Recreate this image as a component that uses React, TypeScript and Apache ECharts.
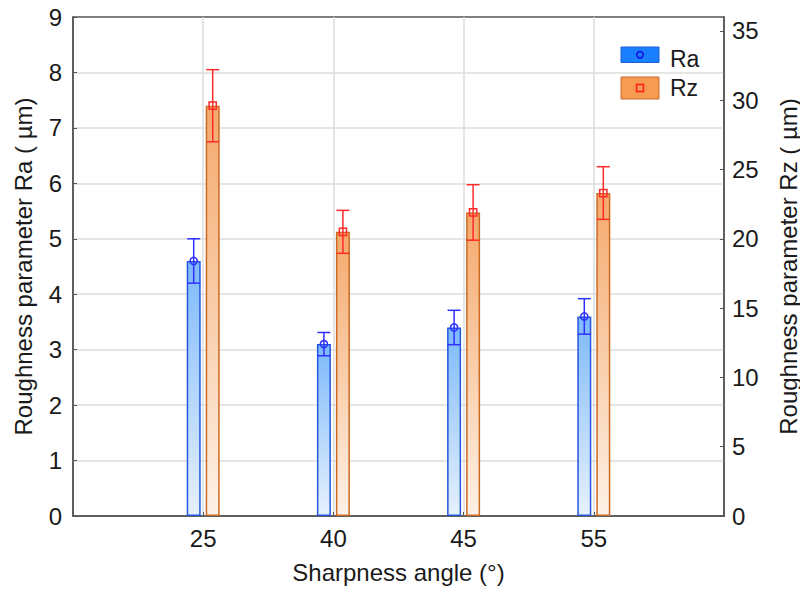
import React, { useEffect, useRef } from 'react';
import * as echarts from 'echarts';

// ---- data ----
const categories = ['25', '40', '45', '55'];
const raMean = [4.6, 3.1, 3.4, 3.6];
const raErr = [0.4, 0.21, 0.31, 0.32];
const rzMean = [29.6, 20.5, 21.9, 23.3];
const rzErr = [2.6, 1.55, 2.0, 1.9];
const seriesNames = ['Ra', 'Rz'];

const leftAxisName = 'Roughness parameter Ra ( µm)';
const rightAxisName = 'Roughness parameter Rz ( µm)';
const xAxisName = 'Sharpness angle (°)';

// ---- style ----
const FONT = '"Liberation Sans", Arial, sans-serif';
const TEXT = '#1a1a1a';
const FRAME = '#555555';
const GRIDC = '#dcdcdc';
const BAR_W = 14;
const BAR_GAP = 5;
const CAP_W = 13;

function makeErr(offset: number, color: string, marker: 'circle' | 'square') {
  return (params: any, api: any) => {
    const x = api.value(0);
    const m = api.value(1);
    const e = api.value(2);
    const pm = api.coord([x, m]);
    const pt = api.coord([x, m + e]);
    const pb = api.coord([x, m - e]);
    const cx = pm[0] + offset;
    const h = CAP_W / 2;
    const ls = { stroke: color, lineWidth: 1.5 };
    const mk =
      marker === 'circle'
        ? { type: 'circle', shape: { cx, cy: pm[1], r: 3.6 }, style: { stroke: color, fill: 'none', lineWidth: 1.5 } }
        : { type: 'rect', shape: { x: cx - 3.6, y: pm[1] - 3.6, width: 7.2, height: 7.2 }, style: { stroke: color, fill: 'none', lineWidth: 1.5 } };
    return {
      type: 'group',
      children: [
        { type: 'line', shape: { x1: cx, y1: pt[1], x2: cx, y2: pb[1] }, style: ls },
        { type: 'line', shape: { x1: cx - h, y1: pt[1], x2: cx + h, y2: pt[1] }, style: ls },
        { type: 'line', shape: { x1: cx - h, y1: pb[1], x2: cx + h, y2: pb[1] }, style: ls },
        mk,
      ],
    };
  };
}

export default function App() {
  const ref = useRef<HTMLDivElement>(null);
  useEffect(() => {
    document.body.style.margin = '0';
    const chart = echarts.init(ref.current!, null, { renderer: 'svg' });
    const off = (BAR_W + BAR_GAP) / 2;
    const legendText = { fontSize: 23, fill: TEXT, fontFamily: FONT, verticalAlign: 'middle', align: 'left' };
    const option: any = {
      animation: false,
      backgroundColor: '#ffffff',
      grid: {
        left: 73,
        right: 76,
        top: 17,
        bottom: 76,
        show: true,
        borderColor: FRAME,
        borderWidth: 1.5,
        backgroundColor: 'transparent',
        outerBoundsMode: 'none',
        containLabel: false,
      },
      graphic: [
        {
          type: 'group',
          z: 100,
          children: [
            { type: 'rect', shape: { x: 621, y: 47, width: 38, height: 15.5 }, style: { fill: '#1a7fff', stroke: '#1d5fd4', lineWidth: 1 } },
            { type: 'circle', shape: { cx: 640, cy: 54.75, r: 3.2 }, style: { stroke: '#1010e0', fill: 'none', lineWidth: 1.5 } },
            { type: 'text', x: 670, y: 59, style: { ...legendText, text: seriesNames[0] } },
            { type: 'rect', shape: { x: 621, y: 77, width: 38, height: 22 }, style: { fill: '#f69b52', stroke: '#c8692a', lineWidth: 1 } },
            { type: 'rect', shape: { x: 636.5, y: 84.5, width: 7, height: 7 }, style: { stroke: '#ff1a1a', fill: 'none', lineWidth: 1.5 } },
            { type: 'text', x: 670, y: 87.5, style: { ...legendText, text: seriesNames[1] } },
          ],
        },
      ],
      xAxis: {
        type: 'category',
        data: ['', ...categories, ''],
        boundaryGap: false,
        name: xAxisName,
        nameLocation: 'middle',
        nameGap: 44,
        nameTextStyle: { fontSize: 24, color: TEXT, fontFamily: FONT },
        axisLine: { show: true, lineStyle: { color: FRAME, width: 1.5 } },
        axisTick: { show: true, inside: true, length: 4, lineStyle: { color: FRAME } },
        axisLabel: { fontSize: 24, color: TEXT, margin: 10, interval: 0, fontFamily: FONT },
        splitLine: { show: true, showMinLine: false, showMaxLine: false, lineStyle: { color: GRIDC, width: 1.5 } },
      },
      yAxis: [
        {
          type: 'value',
          position: 'left',
          min: 0,
          max: 9,
          interval: 1,
          name: leftAxisName,
          nameLocation: 'middle',
          nameGap: 38,
          nameTextStyle: { fontSize: 24, color: TEXT, fontFamily: FONT },
          axisLine: { show: true, lineStyle: { color: FRAME, width: 1.5 } },
          axisTick: { show: true, inside: true, length: 4, lineStyle: { color: FRAME } },
          axisLabel: { fontSize: 24, color: TEXT, margin: 11, fontFamily: FONT },
          splitLine: { show: true, showMinLine: false, showMaxLine: false, lineStyle: { color: GRIDC, width: 1.5 } },
        },
        {
          type: 'value',
          position: 'right',
          min: 0,
          max: 36,
          interval: 5,
          name: rightAxisName,
          nameLocation: 'middle',
          nameGap: 52,
          nameTextStyle: { fontSize: 24, color: TEXT, fontFamily: FONT },
          axisLine: { show: true, lineStyle: { color: FRAME, width: 1.5 } },
          axisTick: { show: true, inside: true, length: 4, lineStyle: { color: FRAME } },
          axisLabel: { fontSize: 24, color: TEXT, margin: 8, fontFamily: FONT, showMaxLabel: false },
          splitLine: { show: false },
        },
      ],
      series: [
        {
          type: 'bar',
          name: seriesNames[0],
          yAxisIndex: 0,
          barWidth: BAR_W,
          barGap: `${(BAR_GAP / BAR_W) * 100}%`,
          data: raMean.map((v, i) => [i + 1, v]),
          itemStyle: {
            color: new echarts.graphic.LinearGradient(0, 0, 0, 1, [
              { offset: 0, color: '#7db9fa' },
              { offset: 1, color: '#e6f1fd' },
            ]),
            borderColor: '#2556e0',
            borderWidth: 1.5,
          },
        },
        {
          type: 'bar',
          name: seriesNames[1],
          yAxisIndex: 1,
          barWidth: BAR_W,
          barGap: `${(BAR_GAP / BAR_W) * 100}%`,
          data: rzMean.map((v, i) => [i + 1, v]),
          itemStyle: {
            color: new echarts.graphic.LinearGradient(0, 0, 0, 1, [
              { offset: 0, color: '#f5a96c' },
              { offset: 1, color: '#fdf1e6' },
            ]),
            borderColor: '#cc6a22',
            borderWidth: 1.5,
          },
        },
        {
          type: 'custom',
          name: 'Ra error',
          yAxisIndex: 0,
          z: 10,
          renderItem: makeErr(-off, '#2f2fff', 'circle'),
          encode: { x: 0, y: 1 },
          data: raMean.map((v, i) => [i + 1, v, raErr[i]]),
        },
        {
          type: 'custom',
          name: 'Rz error',
          yAxisIndex: 1,
          z: 10,
          renderItem: makeErr(off, '#ff2a2a', 'square'),
          encode: { x: 0, y: 1 },
          data: rzMean.map((v, i) => [i + 1, v, rzErr[i]]),
        },
      ],
    };
    chart.setOption(option);
    return () => chart.dispose();
  }, []);
  return <div ref={ref} style={{ width: 800, height: 592 }} />;
}
